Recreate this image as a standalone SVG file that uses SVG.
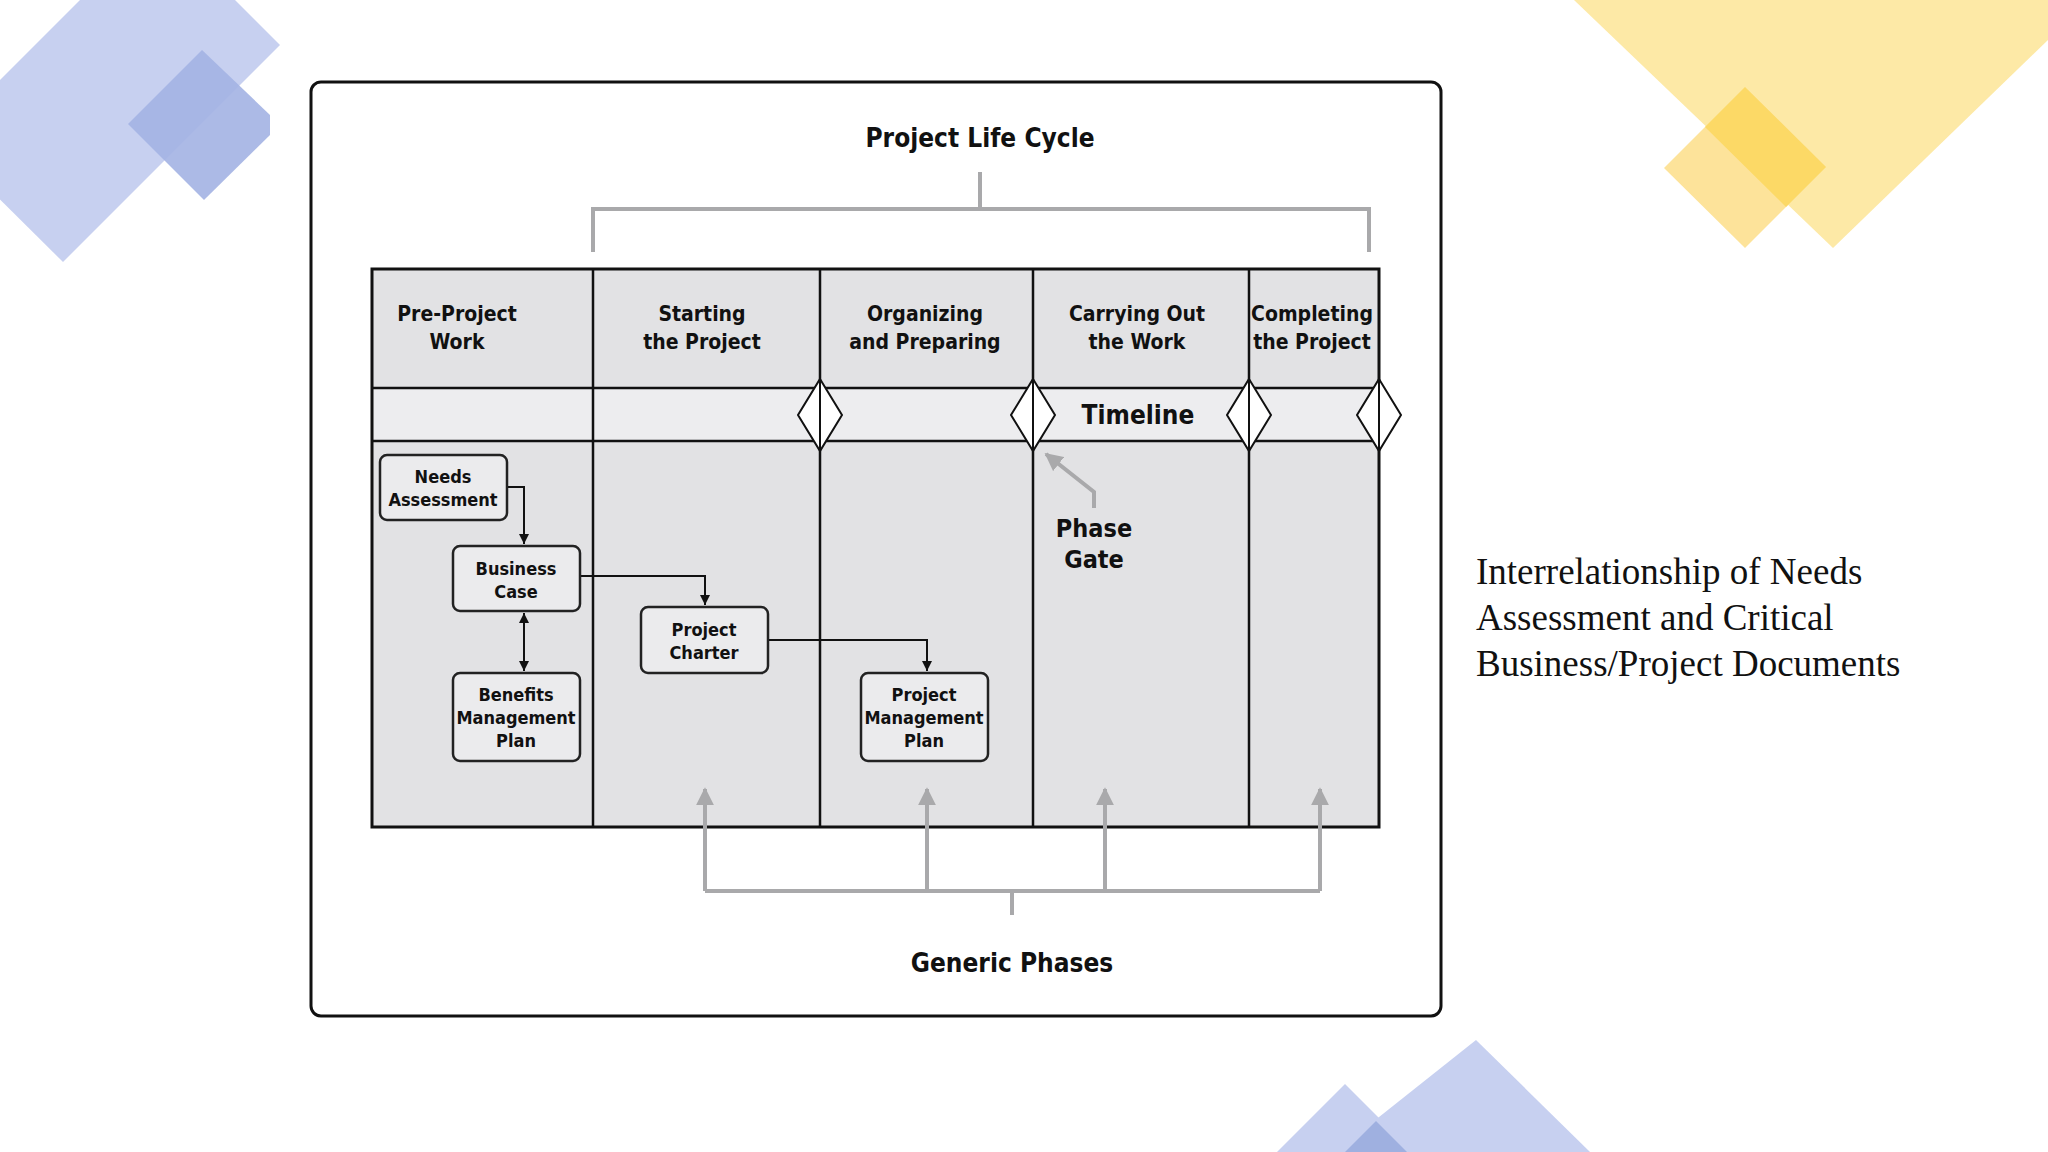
<svg xmlns="http://www.w3.org/2000/svg" width="2048" height="1152" viewBox="0 0 2048 1152">
<defs>
<marker id="ah" viewBox="0 0 10 10" refX="10" refY="5" markerWidth="5" markerHeight="5" orient="auto-start-reverse"><path d="M0,0L10,5L0,10z" fill="#111"/></marker>
<marker id="gh" viewBox="0 0 10 10" refX="9" refY="5" markerWidth="4.5" markerHeight="4.5" orient="auto"><path d="M0,0L10,5L0,10z" fill="#a9a9ab"/></marker>
<style>
.t{font-family:"DejaVu Sans Condensed","DejaVu Sans",sans-serif;font-weight:bold;fill:#111;text-anchor:middle}
.h{font-size:21px}
.b{font-size:18px}
.box{fill:#ebebed;stroke:#222;stroke-width:2.5}
.c{fill:none;stroke:#111;stroke-width:2}
.g{fill:none;stroke:#a9a9ab;stroke-width:4}
.col{stroke:#111;stroke-width:2.5}
.dia{fill:#fff;stroke:#111;stroke-width:2}
</style>
</defs>
<rect width="2048" height="1152" fill="#fff"/>
<g id="decor">
<polygon points="235,0 280,45 63,262 -60,140 80,0" fill="#c7d0f0"/>
<polygon points="202,50 270,115 270,135 204,200 128,124" fill="#a3b3e3" opacity="0.9"/>
<polygon points="1574,0 2048,0 2048,40 1833,248" fill="#fde9a6"/>
<polygon points="1745,87 1826,167 1745,248 1664,168" fill="#fde39a"/>
<polygon points="1745,87 1826,167 1786,207 1705,127" fill="#fcd966"/>
<polygon points="1277,1152 1345,1084 1413,1152" fill="#c7d0f0"/>
<polygon points="1335,1152 1476,1040 1590,1152" fill="#c7d0f0"/>
<polygon points="1345,1152 1376,1121 1407,1152" fill="#9fb0e0"/>
</g>
<rect x="311" y="82" width="1130" height="934" rx="10" fill="#fff" stroke="#111" stroke-width="3"/>
<text class="t" x="980" y="147" font-size="26">Project Life Cycle</text>
<g id="table">
<rect x="372" y="269" width="1007" height="558" fill="#e2e2e4"/>
<rect x="372" y="388" width="1007" height="53" fill="#ededef"/>
<rect x="372" y="269" width="1007" height="558" fill="none" stroke="#111" stroke-width="3"/>
<line x1="372" y1="388" x2="1379" y2="388" class="col"/>
<line x1="372" y1="441" x2="1379" y2="441" class="col"/>
<line x1="593" y1="269" x2="593" y2="827" class="col"/>
<line x1="820" y1="269" x2="820" y2="827" class="col"/>
<line x1="1033" y1="269" x2="1033" y2="827" class="col"/>
<line x1="1249" y1="269" x2="1249" y2="827" class="col"/>
<text class="t h" x="457" y="321">Pre-Project</text><text class="t h" x="457" y="349">Work</text>
<text class="t h" x="702" y="321">Starting</text><text class="t h" x="702" y="349">the Project</text>
<text class="t h" x="925" y="321">Organizing</text><text class="t h" x="925" y="349">and Preparing</text>
<text class="t h" x="1137" y="321">Carrying Out</text><text class="t h" x="1137" y="349">the Work</text>
<text class="t h" x="1312" y="321">Completing</text><text class="t h" x="1312" y="349">the Project</text>
<text class="t" x="1138" y="424" font-size="26">Timeline</text>
</g>
<g id="gates">
<polygon class="dia" points="820,379 842,415 820,451 798,415"/><line x1="820" y1="379" x2="820" y2="451" class="c"/>
<polygon class="dia" points="1033,379 1055,415 1033,451 1011,415"/><line x1="1033" y1="379" x2="1033" y2="451" class="c"/>
<polygon class="dia" points="1249,379 1271,415 1249,451 1227,415"/><line x1="1249" y1="379" x2="1249" y2="451" class="c"/>
<polygon class="dia" points="1379,379 1401,415 1379,451 1357,415"/><line x1="1379" y1="379" x2="1379" y2="451" class="c"/>
<text class="t" x="1094" y="537" font-size="25">Phase</text>
<text class="t" x="1094" y="568" font-size="25">Gate</text>
</g>
<g id="connectors">
<path class="g" d="M980,172V209M593,252V209H1369V252" stroke-width="4"/>
<path class="g" d="M1094,508V492L1046,454" marker-end="url(#gh)" stroke-width="3.5"/>
<path class="c" d="M507,487H524V544" marker-end="url(#ah)"/>
<path class="c" d="M580,576H705V605" marker-end="url(#ah)"/>
<path class="c" d="M524,613V671" marker-start="url(#ah)" marker-end="url(#ah)"/>
<path class="c" d="M768,640H927V671" marker-end="url(#ah)"/>
<path class="g" d="M1012,915V891M705,891H1320"/>
<path class="g" d="M705,891V789" marker-end="url(#gh)"/>
<path class="g" d="M927,891V789" marker-end="url(#gh)"/>
<path class="g" d="M1105,891V789" marker-end="url(#gh)"/>
<path class="g" d="M1320,891V789" marker-end="url(#gh)"/>
</g>
<g id="needs"><rect class="box" x="380" y="455" width="127" height="65" rx="7"/><text class="t b" x="443" y="483">Needs</text><text class="t b" x="443" y="506">Assessment</text></g>
<g id="business"><rect class="box" x="453" y="546" width="127" height="65" rx="7"/><text class="t b" x="516" y="575">Business</text><text class="t b" x="516" y="598">Case</text></g>
<g id="benefits"><rect class="box" x="453" y="673" width="127" height="88" rx="7"/><text class="t b" x="516" y="701">Benefits</text><text class="t b" x="516" y="724">Management</text><text class="t b" x="516" y="747">Plan</text></g>
<g id="charter"><rect class="box" x="641" y="607" width="127" height="66" rx="7"/><text class="t b" x="704" y="636">Project</text><text class="t b" x="704" y="659">Charter</text></g>
<g id="pmp"><rect class="box" x="861" y="673" width="127" height="88" rx="7"/><text class="t b" x="924" y="701">Project</text><text class="t b" x="924" y="724">Management</text><text class="t b" x="924" y="747">Plan</text></g>
<text class="t" x="1012" y="972" font-size="26">Generic Phases</text>
<g font-family="Liberation Serif, serif" font-size="37" fill="#111">
<text x="1476" y="584">Interrelationship of Needs</text>
<text x="1476" y="630">Assessment and Critical</text>
<text x="1476" y="676">Business/Project Documents</text>
</g>
</svg>
